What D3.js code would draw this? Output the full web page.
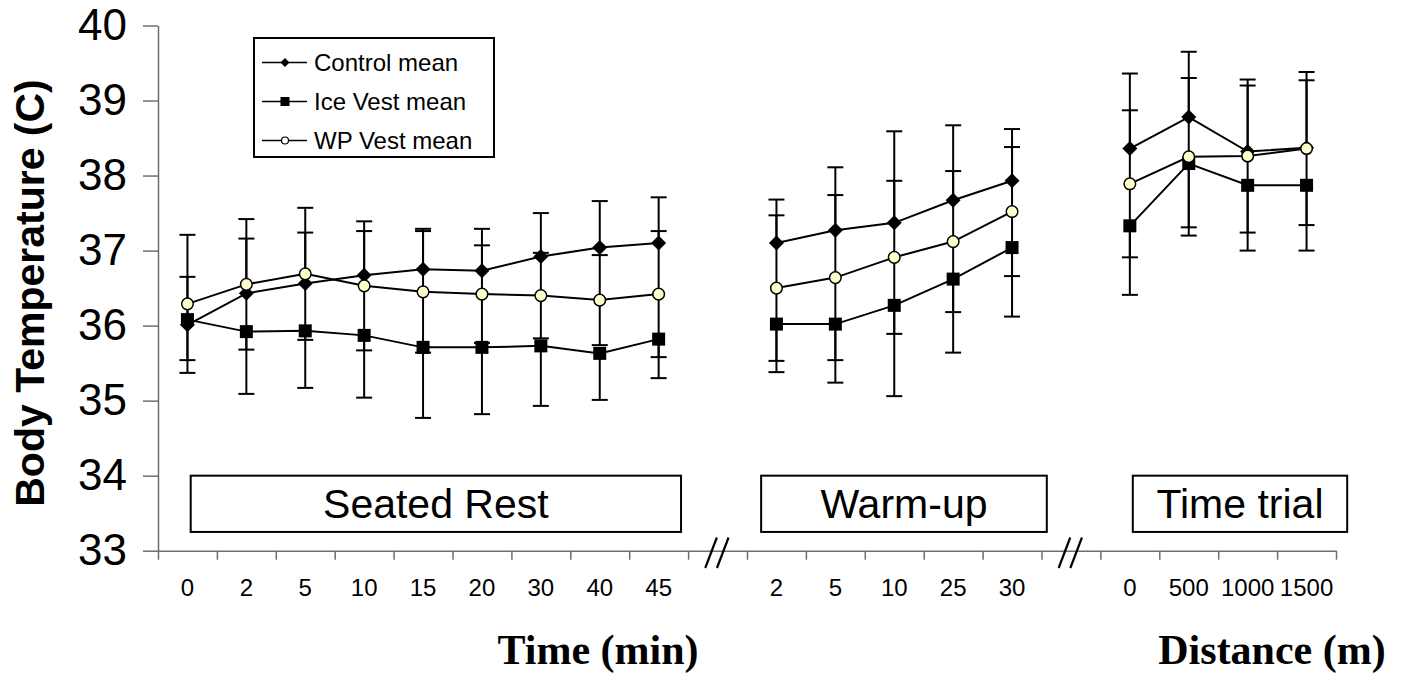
<!DOCTYPE html>
<html>
<head>
<meta charset="utf-8">
<script src="https://cdn.jsdelivr.net/npm/d3@7"></script>
<style>
  body { margin: 0; background: #fff; }
  svg { display: block; font-family: Arial, "Liberation Sans", sans-serif; }
</style>
</head>
<body>
<svg id="chart" width="1408" height="675"></svg>
<script>
// ---- data ----
var phaseNames  = ["Seated Rest", "Warm-up", "Time trial"];
var restLabels  = ["0", "2", "5", "10", "15", "20", "30", "40", "45"];
var warmLabels  = ["2", "5", "10", "25", "30"];
var trialLabels = ["0", "500", "1000", "1500"];
var yTicks      = [33, 34, 35, 36, 37, 38, 39, 40];
var seriesNames = ["Control mean", "Ice Vest mean", "WP Vest mean"];

// means: 9 seated rest points, 5 warm-up, 4 time trial
var controlMean = [36.01, 36.43, 36.56, 36.67, 36.75, 36.73, 36.92, 37.04, 37.10,
                   37.10, 37.27, 37.37, 37.67, 37.93,
                   38.36, 38.78, 38.32, 38.37];
var controlSD   = [0.64, 0.73, 0.68, 0.59, 0.54, 0.56, 0.58, 0.62, 0.61,
                   0.58, 0.84, 1.22, 1.00, 0.69,
                   1.00, 0.87, 0.88, 0.90];
var iceMean     = [36.08, 35.92, 35.93, 35.87, 35.71, 35.71, 35.73, 35.63, 35.82,
                   36.02, 36.02, 36.27, 36.62, 37.04,
                   37.33, 38.16, 37.87, 37.87];
var iceSD       = [0.54, 0.83, 0.76, 0.83, 0.94, 0.89, 0.80, 0.62, 0.52,
                   0.64, 0.78, 1.21, 0.98, 0.92,
                   0.92, 0.85, 0.87, 0.87];
var wpMean      = [36.29, 36.55, 36.69, 36.53, 36.45, 36.42, 36.40, 36.34, 36.42,
                   36.50, 36.64, 36.91, 37.12, 37.52,
                   37.89, 38.25, 38.26, 38.36];
var wpSD        = [0.92, 0.87, 0.88, 0.86, 0.81, 0.65, 0.57, 0.60, 0.84,
                   0.97, 1.10, 1.02, 0.94, 0.86,
                   0.98, 1.05, 1.02, 1.02];

var svg = d3.select("#chart");

// x slots: categories of each phase with an empty break slot between phases
var slots = [];
[restLabels, warmLabels, trialLabels].forEach(function (labs, p) {
  if (p > 0) slots.push({ id: "brk" + p, label: "", brk: true });
  labs.forEach(function (l, j) { slots.push({ id: p + "_" + j, label: l, phase: p }); });
});
var pointSlots = slots.filter(function (d) { return !d.brk; });

var x  = d3.scaleBand().domain(slots.map(function (d) { return d.id; })).range([158, 1336]);
var xl = d3.scaleLinear().domain([0, slots.length]).range([158, 1336]);
var y  = d3.scaleLinear().domain([33, 40]).range([550.7, 25.5]);

var axisColor = "#6e6e6e";

// y axis
var gy = svg.append("g").attr("transform", "translate(158,0)")
  .call(d3.axisLeft(y).tickValues(yTicks).tickFormat(d3.format("d"))
    .tickSize(15).tickSizeOuter(0).tickPadding(16));
gy.selectAll("path, line").attr("stroke", axisColor).attr("stroke-width", 1.5);
gy.selectAll("text").attr("font-size", 44).attr("fill", "#000")
  .attr("font-family", "Arial, 'Liberation Sans', sans-serif");

// x axis line + tick marks at slot boundaries
var gx = svg.append("g").attr("transform", "translate(0,550.7)")
  .call(d3.axisBottom(xl).tickValues(d3.range(slots.length + 1)).tickSize(9).tickSizeOuter(0).tickFormat(""));
gx.selectAll("path, line").attr("stroke", axisColor).attr("stroke-width", 1.5);

// x labels at slot centers
var gxl = svg.append("g").attr("transform", "translate(0,550.7)")
  .call(d3.axisBottom(x).tickSize(0).tickPadding(28)
    .tickFormat(function (id) { return slots.find(function (s) { return s.id === id; }).label; }));
gxl.select(".domain").remove();
gxl.selectAll("text").attr("font-size", 24).attr("fill", "#000")
  .attr("font-family", "Arial, 'Liberation Sans', sans-serif");

// axis break marks "//"
slots.filter(function (d) { return d.brk; }).forEach(function (d) {
  var cx = x(d.id) + x.bandwidth() / 2;
  [-6.5, 5.2].forEach(function (off) {
    svg.append("line")
      .attr("x1", cx + off + 5.8).attr("y1", 537.5)
      .attr("x2", cx + off - 5.8).attr("y2", 568)
      .attr("stroke", "#000").attr("stroke-width", 2.2);
  });
});

// phase boxes
var boxSpans = [[0.555, 8.88], [10.24, 15.09], [16.55, 20.19]];
phaseNames.forEach(function (name, i) {
  var x0 = xl(boxSpans[i][0]), x1 = xl(boxSpans[i][1]);
  var y0 = y(34), y1 = y(33.25);
  svg.append("rect").attr("x", x0).attr("y", y0).attr("width", x1 - x0).attr("height", y1 - y0)
    .attr("fill", "#fff").attr("stroke", "#000").attr("stroke-width", 2);
  svg.append("text").attr("x", (x0 + x1) / 2).attr("y", (y0 + y1) / 2 + 14.5)
    .attr("text-anchor", "middle").attr("font-size", 41).text(name);
});

// series
function px(i) { var s = pointSlots[i]; return x(s.id) + x.bandwidth() / 2; }
var series = [
  { name: seriesNames[0], mean: controlMean, sd: controlSD, bars: "up",   shape: "diamond" },
  { name: seriesNames[1], mean: iceMean,     sd: iceSD,     bars: "down", shape: "square" },
  { name: seriesNames[2], mean: wpMean,      sd: wpSD,      bars: "both", shape: "circle" }
];

function drawMarker(g, shape, cx, cy, s) {
  if (shape === "diamond") {
    g.append("path").attr("d", "M" + cx + "," + (cy - s) + "L" + (cx + s) + "," + cy + "L" + cx + "," + (cy + s) + "L" + (cx - s) + "," + cy + "Z")
      .attr("fill", "#000");
  } else if (shape === "square") {
    g.append("rect").attr("x", cx - s).attr("y", cy - s).attr("width", 2 * s).attr("height", 2 * s).attr("fill", "#000");
  } else {
    g.append("circle").attr("cx", cx).attr("cy", cy).attr("r", s)
      .attr("fill", "#ffffcc").attr("stroke", "#000").attr("stroke-width", 1.5);
  }
}

// error bars
var gErr = svg.append("g").attr("stroke", "#000").attr("stroke-width", 2);
series.forEach(function (s) {
  s.mean.forEach(function (m, i) {
    var cx = px(i);
    var hi = s.bars === "down" ? m : m + s.sd[i];
    var lo = s.bars === "up" ? m : m - s.sd[i];
    gErr.append("line").attr("x1", cx).attr("x2", cx).attr("y1", y(hi)).attr("y2", y(lo));
    if (s.bars !== "down")
      gErr.append("line").attr("x1", cx - 8).attr("x2", cx + 8).attr("y1", y(hi)).attr("y2", y(hi));
    if (s.bars !== "up")
      gErr.append("line").attr("x1", cx - 8).attr("x2", cx + 8).attr("y1", y(lo)).attr("y2", y(lo));
  });
});

// lines, separately per phase
var line = d3.line().x(function (d) { return px(d.i); }).y(function (d) { return y(d.v); });
series.forEach(function (s) {
  [0, 1, 2].forEach(function (p) {
    var pts = s.mean.map(function (v, i) { return { v: v, i: i }; })
      .filter(function (d) { return pointSlots[d.i].phase === p; });
    svg.append("path").attr("d", line(pts)).attr("fill", "none")
      .attr("stroke", "#000").attr("stroke-width", 2);
  });
});

// markers
var sizes = { diamond: 7.5, square: 6.5, circle: 5.8 };
series.forEach(function (s) {
  var g = svg.append("g");
  s.mean.forEach(function (m, i) { drawMarker(g, s.shape, px(i), y(m), sizes[s.shape]); });
});

// legend
var leg = svg.append("g");
leg.append("rect").attr("x", 254).attr("y", 38).attr("width", 240).attr("height", 119)
  .attr("fill", "#fff").attr("stroke", "#000").attr("stroke-width", 2);
var legSizes = { diamond: 4.5, square: 4.5, circle: 3.5 };
series.forEach(function (s, i) {
  var ly = 62.5 + i * 39;
  leg.append("line").attr("x1", 262).attr("x2", 307).attr("y1", ly).attr("y2", ly)
    .attr("stroke", "#000").attr("stroke-width", 1.5);
  if (s.shape === "circle") {
    leg.append("circle").attr("cx", 285).attr("cy", ly).attr("r", legSizes.circle)
      .attr("fill", "#fff").attr("stroke", "#000").attr("stroke-width", 1.2);
  } else {
    drawMarker(leg, s.shape, 285, ly, legSizes[s.shape]);
  }
  leg.append("text").attr("x", 314).attr("y", ly + 8.5).attr("font-size", 24).text(s.name);
});

// axis titles
svg.append("text").attr("transform", "translate(44,293) rotate(-90)")
  .attr("text-anchor", "middle").attr("font-size", 41).attr("font-weight", "bold")
  .text("Body Temperature (C)");
svg.append("text").attr("x", 598).attr("y", 664).attr("text-anchor", "middle")
  .attr("font-family", "'Times New Roman', 'Liberation Serif', serif")
  .attr("font-size", 42).attr("font-weight", "bold").text("Time (min)");
svg.append("text").attr("x", 1272).attr("y", 664).attr("text-anchor", "middle")
  .attr("font-family", "'Times New Roman', 'Liberation Serif', serif")
  .attr("font-size", 42).attr("font-weight", "bold").text("Distance (m)");
</script>
</body>
</html>
